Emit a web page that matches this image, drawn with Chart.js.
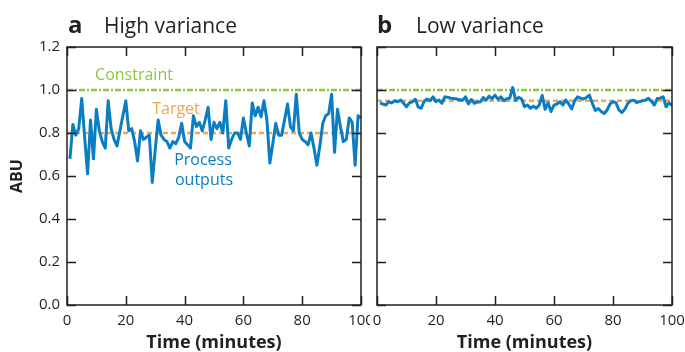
<!DOCTYPE html>
<html><head><meta charset="utf-8">
<script src="https://cdn.jsdelivr.net/npm/chart.js@4.4.1/dist/chart.umd.min.js"></script>
<style>
html,body{margin:0;padding:0;background:#fff;width:685px;height:352px;overflow:hidden}
#wrap{position:relative;width:685px;height:352px}
canvas{position:absolute;top:0}
#c1{left:0}
#c2{left:370px}
</style></head><body>
<div id="wrap"><canvas id="c1" width="370" height="352"></canvas><canvas id="c2" width="315" height="352"></canvas></div>
<script>
// ---- data ----
const minutes = [1,2,3,4,5,6,7,8,9,10,11,12,13,14,15,16,17,18,19,20,21,22,23,24,25,26,27,28,29,30,31,32,33,34,35,36,37,38,39,40,41,42,43,44,45,46,47,48,49,50,51,52,53,54,55,56,57,58,59,60,61,62,63,64,65,66,67,68,69,70,71,72,73,74,75,76,77,78,79,80,81,82,83,84,85,86,87,88,89,90,91,92,93,94,95,96,97,98,99,100];
const highVariance = [0.68,0.84,0.79,0.82,0.96,0.78,0.61,0.86,0.68,0.91,0.81,0.76,0.73,0.95,0.82,0.77,0.74,0.81,0.88,0.95,0.81,0.82,0.76,0.67,0.81,0.77,0.78,0.79,0.57,0.72,0.86,0.79,0.77,0.76,0.73,0.76,0.75,0.78,0.845,0.76,0.745,0.73,0.88,0.83,0.85,0.81,0.86,0.92,0.77,0.85,0.82,0.85,0.80,0.95,0.73,0.77,0.80,0.80,0.77,0.87,0.80,0.74,0.94,0.88,0.92,0.875,0.95,0.86,0.66,0.75,0.845,0.79,0.79,0.86,0.935,0.83,0.81,0.98,0.80,0.77,0.76,0.745,0.80,0.73,0.65,0.74,0.845,0.88,0.89,0.98,0.71,0.91,0.83,0.76,0.77,0.87,0.85,0.65,0.88,0.87];
const lowVariance = [0.94,0.935,0.93,0.945,0.94,0.95,0.945,0.953,0.938,0.922,0.94,0.945,0.957,0.92,0.915,0.948,0.958,0.95,0.968,0.946,0.953,0.938,0.968,0.966,0.962,0.96,0.958,0.955,0.952,0.968,0.935,0.956,0.938,0.945,0.944,0.965,0.953,0.972,0.96,0.976,0.957,0.968,0.95,0.96,0.962,1.012,0.953,0.966,0.958,0.922,0.93,0.915,0.925,0.915,0.93,0.975,0.91,0.94,0.90,0.93,0.935,0.945,0.93,0.953,0.935,0.912,0.95,0.968,0.962,0.958,0.965,0.976,0.938,0.905,0.914,0.90,0.89,0.907,0.935,0.946,0.94,0.907,0.895,0.91,0.938,0.95,0.953,0.942,0.946,0.95,0.953,0.961,0.948,0.93,0.96,0.962,0.968,0.922,0.94,0.928];
const constraintLevel = [1.0, 1.0];      // panels a, b
const targetLevel = [0.8, 0.95];          // panels a, b
const xRange = [0, 100];
const xTicks = [0, 20, 40, 60, 80, 100];
const yTicks = [0, 0.2, 0.4, 0.6, 0.8, 1.0, 1.2];
const yTickLabels = ['0.0','0.2','0.4','0.6','0.8','1.0','1.2'];
const panelLetters = ['a', 'b'];
const panelTitles = ['High variance', 'Low variance'];
const xTitle = 'Time (minutes)';
const yTitle = 'ABU';

// ---- styles ----
const FONT = "'Open Sans', sans-serif";
const INK = '#231f20';
const BLUE = '#0b7dc2';
const ORANGE = '#f7a24e';
const GREEN = '#8cc63f';

const framePlugin = {
  id: 'frame',
  afterDraw(chart, args, o) {
    const {ctx, chartArea: a, scales: {x, y}} = chart;
    ctx.save();
    ctx.strokeStyle = INK;
    ctx.lineWidth = 1.5;
    ctx.strokeRect(a.left, a.top, a.right - a.left, a.bottom - a.top);
    const L = 9;
    ctx.beginPath();
    xTicks.forEach(v => {
      const px = Math.round(x.getPixelForValue(v)) + 0.5;
      ctx.moveTo(px, a.bottom); ctx.lineTo(px, a.bottom - L);
      ctx.moveTo(px, a.top); ctx.lineTo(px, a.top + L);
    });
    yTicks.forEach(v => {
      const py = Math.round(y.getPixelForValue(v)) + 0.5;
      ctx.moveTo(a.left, py); ctx.lineTo(a.left + L, py);
      ctx.moveTo(a.right, py); ctx.lineTo(a.right - L, py);
    });
    ctx.stroke();
    // panel title
    ctx.fillStyle = INK;
    ctx.textBaseline = 'alphabetic';
    ctx.textAlign = 'left';
    ctx.font = 'bold 24px ' + FONT;
    ctx.fillText(o.letter, a.left + o.letterDx, 33);
    ctx.font = '21px ' + FONT;
    ctx.fillText(o.title, a.left + o.titleDx, 33);
    // annotations
    (o.notes || []).forEach(n => {
      ctx.fillStyle = n.color;
      ctx.font = '16px ' + FONT;
      ctx.textAlign = 'center';
      ctx.textBaseline = 'middle';
      ctx.fillText(n.text, n.x, n.y);
    });
    ctx.restore();
  }
};

function makePanel(id, idx, values, showY, padRight, yWidth, notes, letterDx, titleDx) {
  const pts = values.map((v, i) => ({x: minutes[i], y: v}));
  const cons = xRange.map(xv => ({x: xv, y: constraintLevel[idx]}));
  const targ = xRange.map(xv => ({x: xv, y: targetLevel[idx]}));
  return new Chart(document.getElementById(id), {
    type: 'line',
    data: {
      datasets: [
        {data: pts, borderColor: BLUE, borderWidth: 3, pointRadius: 0, tension: 0, borderJoinStyle: 'round'},
        {data: targ, borderColor: ORANGE, borderWidth: 2.5, pointRadius: 0, borderDash: [5, 3]},
        {data: cons, borderColor: GREEN, borderWidth: 2.5, pointRadius: 0, borderDash: [6, 2, 2, 2]}
      ]
    },
    options: {
      responsive: false, animation: false, devicePixelRatio: 1,
      layout: {padding: {top: 47, right: padRight, left: 0, bottom: 0}},
      plugins: {legend: {display: false}, tooltip: {enabled: false},
        frame: {letter: panelLetters[idx], title: panelTitles[idx], notes: notes, letterDx: letterDx, titleDx: titleDx}},
      scales: {
        x: {
          type: 'linear', min: xRange[0], max: xRange[1],
          grid: {display: false, drawTicks: false}, border: {display: false},
          afterBuildTicks: s => { s.ticks = xTicks.map(v => ({value: v})); },
          ticks: {padding: 7, color: INK, font: {family: FONT, size: 15}, maxRotation: 0, autoSkip: false,
            callback: v => String(v)},
          title: {display: true, text: xTitle, color: INK, font: {family: FONT, size: 18, weight: 'bold', lineHeight: 1.0}, padding: {top: 0, bottom: 0}},
          afterFit: s => { s.height = 47; s.paddingLeft = 0; s.paddingRight = 0; }
        },
        y: {
          type: 'linear', min: 0, max: 1.2,
          grid: {display: false, drawTicks: false}, border: {display: false},
          afterBuildTicks: s => { s.ticks = yTicks.map(v => ({value: v})); },
          ticks: {display: showY, padding: 7, color: INK, font: {family: FONT, size: 15},
            callback: (v, i) => yTickLabels[i]},
          title: {display: showY, text: yTitle, color: INK, font: {family: FONT, size: 16, weight: 'bold', lineHeight: 1.2}, padding: {top: 8, bottom: 0}},
          afterFit: s => { s.width = yWidth; s.paddingTop = 0; s.paddingBottom = 0; }
        }
      }
    },
    plugins: [framePlugin]
  });
}

makePanel('c1', 0, highVariance, true, 9, 67, [
  {text: 'Constraint', x: 134, y: 75, color: GREEN},
  {text: 'Target', x: 176, y: 109, color: ORANGE},
  {text: 'Process', x: 203, y: 160, color: BLUE},
  {text: 'outputs', x: 204, y: 180, color: BLUE}
], 1, 37);
makePanel('c2', 1, lowVariance, false, 13, 7, [], 0, 39);
</script>
</body></html>
